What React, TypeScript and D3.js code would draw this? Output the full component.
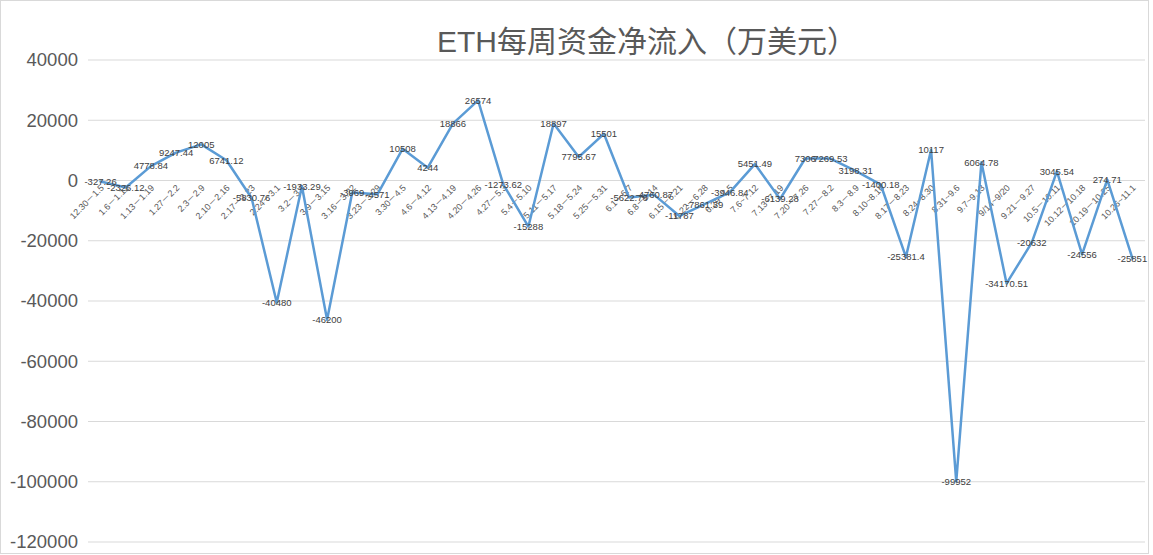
import React from "react";
import * as d3 from "d3";

const categories: string[] = [
  "12.30－1.5", "1.6－1.12", "1.13－1.19", "1.27－2.2", "2.3－2.9", "2.10－2.16", "2.17－2.23",
  "2.24－3.1", "3.2－3.8", "3.9－3.15", "3.16－3.22", "3.23－3.29", "3.30－4.5", "4.6－4.12",
  "4.13－4.19", "4.20－4.26", "4.27－5.3", "5.4－5.10", "5.11－5.17", "5.18－5.24", "5.25－5.31",
  "6.1－6.7", "6.8－6.14", "6.15－6.21", "6.22－6.28", "6.29~7.5", "7.6~7.12", "7.13~7.19",
  "7.20－7.26", "7.27－8.2", "8.3－8.9", "8.10~8.16", "8.17－8.23", "8.24~8.30", "8.31~9.6",
  "9.7~9.13", "9/14~9/20", "9.21－9.27", "10.5－10.11", "10.12－10.18", "10.19－10.25", "10.26~11.1",
];

const values: number[] = [
  -327.26, -2326.12, 4778.84, 9247.44, 12005, 6741.12, -5830.76,
  -40480, -1933.29, -46200, -3969, -4571, 10508, 4244,
  18866, 26574, -1273.62, -15288, 18897, 7795.67, 15501,
  -5622.76, -4760.87, -11787, -7861.39, -3946.84, 5451.49, -6139.28,
  7306, 7269.53, 3198.31, -1400.18, -25381.4, 10117, -99952,
  6064.78, -34170.51, -20632, 3045.54, -24556, 274.71, -25851,
];

const yTicks: number[] = [40000, 20000, 0, -20000, -40000, -60000, -80000, -100000, -120000];

const title = "ETH每周资金净流入（万美元）";

const W = 1153;
const H = 555;
const FONT = "'Liberation Sans', Arial, 'Noto Sans CJK SC', sans-serif";

export default function App() {
  const x = d3.scaleBand<string>().domain(categories).range([88, 1145]);
  const y = d3.scaleLinear().domain([-120000, 40000]).range([542, 60]);
  const cx = (c: string) => (x(c) as number) + x.bandwidth() / 2;
  const line = d3
    .line<number>()
    .x((_, i) => cx(categories[i]))
    .y((d) => y(d));

  return (
    <svg
      width={W}
      height={H}
      style={{ position: "absolute", left: 0, top: 0, background: "#fff" }}
      fontFamily={FONT}
    >
      <rect x={0.5} y={0.5} width={1148} height={553} fill="#fff" stroke="#d9d9d9" />
      <text x={647} y={52} textAnchor="middle" fontSize={30} fill="#595959">
        {title}
      </text>
      {yTicks.map((t) => (
        <g key={t}>
          <line x1={88} x2={1145} y1={y(t)} y2={y(t)} stroke="#d9d9d9" strokeWidth={1} />
          <text x={78} y={y(t)} dy="0.35em" textAnchor="end" fontSize={18.5} fill="#595959">
            {t}
          </text>
        </g>
      ))}
      {categories.map((c) => (
        <text
          key={c}
          transform={`translate(${cx(c) + 4},${y(0) + 8}) rotate(-45)`}
          textAnchor="end"
          fontSize={9}
          fill="#595959"
        >
          {c}
        </text>
      ))}
      <path
        d={line(values) || ""}
        fill="none"
        stroke="#5b9bd5"
        strokeWidth={2.5}
        strokeLinejoin="round"
        strokeLinecap="round"
      />
      {values.map((v, i) => (
        <text
          key={i}
          x={cx(categories[i])}
          y={y(v)}
          dy="0.35em"
          textAnchor="middle"
          fontSize={9.5}
          fill="#404040"
        >
          {v}
        </text>
      ))}
    </svg>
  );
}
